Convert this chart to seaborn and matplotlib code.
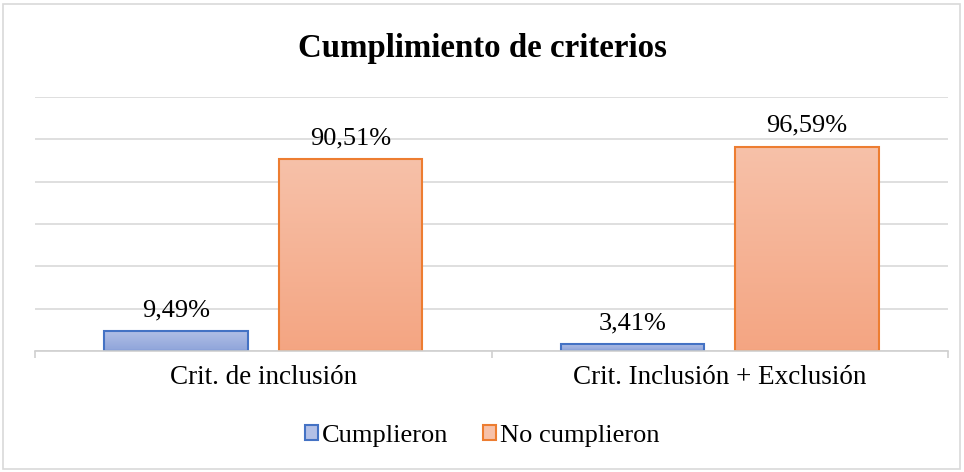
import numpy as np
import pandas as pd
import matplotlib
matplotlib.use("Agg")
import matplotlib.pyplot as plt
import seaborn as sns
from matplotlib.colors import LinearSegmentedColormap
from matplotlib.patches import Rectangle, Patch

# data
categorias = ["Crit. de inclusión", "Crit. Inclusión + Exclusión"]
cumplieron = [9.49, 3.41]
no_cumplieron = [90.51, 96.59]
series = ["Cumplieron", "No cumplieron"]

df = pd.DataFrame({
    "categoria": categorias * 2,
    "serie": [series[0]] * 2 + [series[1]] * 2,
    "valor": cumplieron + no_cumplieron,
})

sns.set_theme(style="white")
plt.rcParams["font.family"] = ["Liberation Serif", "DejaVu Serif"]
plt.rcParams["text.color"] = "black"

edge = {"Cumplieron": "#4472C4", "No cumplieron": "#ED7D31"}
grad = {"Cumplieron": ("#b3c0e6", "#8ea4da"), "No cumplieron": ("#f7c1a9", "#f4a582")}

fig = plt.figure(figsize=(9.64, 4.72), dpi=100)
ax = fig.add_axes([35 / 964, 1 - 351 / 472, 913 / 964, 254 / 472])

sns.barplot(data=df, x="categoria", y="valor", hue="serie", order=categorias,
            hue_order=series, width=0.765, gap=0.18, ax=ax, legend=False,
            palette=[grad[s][1] for s in series])

ax.set_yticks(range(0, 121, 20))
ax.set_yticklabels([])
ax.yaxis.grid(True, color="#d9d9d9", linewidth=1.2)
ax.set_axisbelow(True)
for s in ["top", "right", "left"]:
    ax.spines[s].set_visible(False)
ax.spines["bottom"].set_color("#d0d0d0")
ax.spines["bottom"].set_linewidth(1.2)
ax.set_xlabel("")
ax.set_ylabel("")
ax.tick_params(axis="x", which="major", length=0, labelsize=19.5, pad=10, colors="black")
ax.set_xticks([-0.5, 0.5, 1.5], minor=True)
ax.tick_params(axis="x", which="minor", length=5, width=1.2, color="#d0d0d0", bottom=True)
ax.tick_params(axis="y", length=0)

# gradient fill + edges per series
for cont, s in zip(ax.containers, series):
    cmap = LinearSegmentedColormap.from_list(s, [grad[s][1], grad[s][0]])
    for bar in cont:
        bar.set_edgecolor(edge[s])
        bar.set_linewidth(1.5)
        x0, y0 = bar.get_x(), bar.get_y()
        w, h = bar.get_width(), bar.get_height()
        img = ax.imshow(np.linspace(0, 1, 256).reshape(-1, 1),
                        cmap=cmap, vmin=0, vmax=1, aspect="auto", origin="lower",
                        extent=[x0, x0 + w, y0, y0 + h], zorder=bar.get_zorder())
        img.set_clip_path(bar)
        bar.set_facecolor("none")
        bar.set_zorder(bar.get_zorder() + 0.1)
    ax.bar_label(cont, labels=[f"{v:.2f}%".replace(".", ",") for v in cont.datavalues],
                 padding=7, fontsize=19, color="black")
ax.set_xlim(-0.5, 1.5)
ax.set_ylim(0, 120)

fig.suptitle("Cumplimiento de criterios", y=1 - 48 / 472, va="center",
             fontsize=23.7, fontweight="bold", color="black")

handles = [Patch(facecolor=grad[s][0], edgecolor=edge[s], linewidth=1.5, label=s) for s in series]
fig.legend(handles=handles, loc="center", bbox_to_anchor=(0.5, 1 - 436 / 472), ncol=2,
           frameon=False, fontsize=19, handlelength=0.5, handleheight=0.5,
           handletextpad=0.15, columnspacing=1.3, labelcolor="black")

fig.add_artist(Rectangle((3 / 964, 3 / 472), 957 / 964, 465 / 472, transform=fig.transFigure,
                         fill=False, edgecolor="#d9d9d9", linewidth=1.2))

fig.savefig("out.png", dpi=100)
